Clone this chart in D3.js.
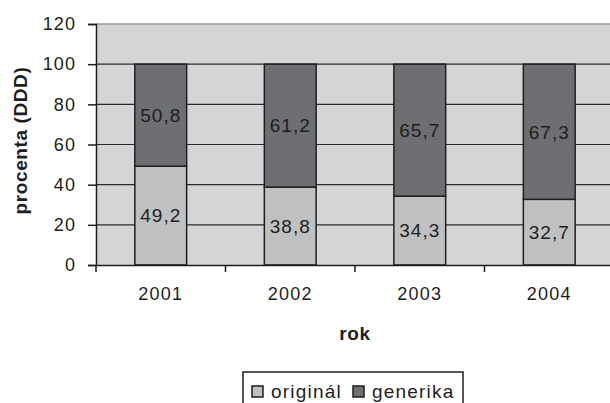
<!DOCTYPE html>
<html>
<head>
<meta charset="utf-8">
<script src="https://cdn.jsdelivr.net/npm/d3@7"></script>
<style>
  body { margin: 0; background: #fff; }
  svg { display: block; font-family: "Liberation Sans", Arial, sans-serif; }
</style>
</head>
<body>
<div id="chart"></div>
<script>
// data
var years = ["2001", "2002", "2003", "2004"];
var original = [49.2, 38.8, 34.3, 32.7];
var generika = [50.8, 61.2, 65.7, 67.3];
var yTicks = [0, 20, 40, 60, 80, 100, 120];
var seriesNames = ["originál", "generika"];
var seriesColors = ["#bfc0c2", "#6e6f72"];

var svgWidth = 610;
var svgHeight = 403;

// plot area (runs a little past the right edge, like the original)
var margin = { top: 24, left: 96 };
var width = 518;
var height = 241;

var svg = d3.select("#chart")
  .append("svg")
  .attr("width", svgWidth)
  .attr("height", svgHeight);

var g = svg.append("g")
  .attr("transform", `translate(${margin.left}, ${margin.top})`);

var x = d3.scaleBand()
  .domain(years)
  .range([0, width])
  .paddingInner(0.6)
  .paddingOuter(0.3);

var xOuter = d3.scaleBand().domain(years).range([0, width]);

var y = d3.scaleLinear()
  .domain([0, 120])
  .range([height, 0]);

// background
g.append("rect")
  .attr("width", width)
  .attr("height", height)
  .attr("fill", "#d4d5d7");

// top border
g.append("line")
  .attr("x1", 0).attr("x2", width)
  .attr("y1", 0).attr("y2", 0)
  .attr("stroke", "#9a9a9a")
  .attr("stroke-width", 1.5);

// gridlines
g.selectAll("line.grid")
  .data(yTicks.filter(d => d > 0 && d < 120))
  .enter()
  .append("line")
  .attr("class", "grid")
  .attr("x1", 0).attr("x2", width)
  .attr("y1", d => y(d)).attr("y2", d => y(d))
  .attr("stroke", "#2a2a2a")
  .attr("stroke-width", 1.2);

// stacked bars
var stackData = years.map((yr, i) => ({ year: yr, original: original[i], generika: generika[i] }));
var stack = d3.stack().keys(["original", "generika"])(stackData);

var layers = g.selectAll("g.layer")
  .data(stack)
  .enter()
  .append("g")
  .attr("class", "layer")
  .attr("fill", (d, i) => seriesColors[i]);

layers.selectAll("rect")
  .data(d => d)
  .enter()
  .append("rect")
  .attr("x", d => x(d.data.year))
  .attr("width", x.bandwidth())
  .attr("y", d => y(d[1]))
  .attr("height", d => y(d[0]) - y(d[1]))
  .attr("stroke", "#1e1e1e")
  .attr("stroke-width", 1.5);

// value labels
layers.selectAll("text")
  .data(d => d)
  .enter()
  .append("text")
  .attr("x", d => x(d.data.year) + x.bandwidth() / 2)
  .attr("y", d => (y(d[0]) + y(d[1])) / 2)
  .attr("dy", "0.36em")
  .attr("text-anchor", "middle")
  .attr("fill", "#1e1e1e")
  .style("font-size", "19px")
  .style("letter-spacing", "1px")
  .text(d => d3.format(".1f")(d[1] - d[0]).replace(".", ","));

// y axis
var leftAxis = d3.axisLeft(y)
  .tickValues(yTicks)
  .tickSize(8)
  .tickPadding(12);

var yAxis = g.append("g").call(leftAxis);
yAxis.select(".domain").attr("stroke", "#1e1e1e").attr("stroke-width", 1.5);
yAxis.selectAll(".tick line").attr("stroke", "#1e1e1e").attr("stroke-width", 1.5);
yAxis.selectAll(".tick text")
  .attr("fill", "#1e1e1e")
  .style("font-size", "18px")
  .style("letter-spacing", "1.1px")
  .style("font-family", "Liberation Sans, Arial, sans-serif");

// x axis
var bottomAxis = d3.axisBottom(xOuter).tickSize(0).tickPadding(22);
var xAxis = g.append("g")
  .attr("transform", `translate(0, ${height})`)
  .call(bottomAxis);
xAxis.select(".domain").attr("stroke", "#1e1e1e").attr("stroke-width", 1.5);
xAxis.selectAll(".tick text")
  .attr("fill", "#1e1e1e")
  .style("font-size", "18px")
  .style("letter-spacing", "1.2px")
  .style("font-family", "Liberation Sans, Arial, sans-serif");

// tick marks between categories
xAxis.selectAll("line.sep")
  .data(years)
  .enter()
  .append("line")
  .attr("class", "sep")
  .attr("x1", d => xOuter(d)).attr("x2", d => xOuter(d))
  .attr("y1", 0).attr("y2", 7)
  .attr("stroke", "#1e1e1e")
  .attr("stroke-width", 1.5);

// axis titles
svg.append("text")
  .attr("transform", `translate(27, ${margin.top + height / 2 - 4}) rotate(-90)`)
  .attr("text-anchor", "middle")
  .attr("fill", "#1e1e1e")
  .style("font-size", "19px")
  .style("font-weight", "bold")
  .style("letter-spacing", "0.6px")
  .text("procenta (DDD)");

svg.append("text")
  .attr("x", margin.left + width / 2)
  .attr("y", 340)
  .attr("text-anchor", "middle")
  .attr("fill", "#1e1e1e")
  .style("font-size", "19px")
  .style("font-weight", "bold")
  .style("letter-spacing", "0.6px")
  .text("rok");

// legend
var legend = svg.append("g");
legend.append("path")
  .attr("d", "M243,405 V372 H463 V405")
  .attr("fill", "none")
  .attr("stroke", "#1e1e1e")
  .attr("stroke-width", 1.5);

var legendX = [252, 353];
seriesNames.forEach(function(name, i) {
  legend.append("rect")
    .attr("x", legendX[i])
    .attr("y", 386)
    .attr("width", 11)
    .attr("height", 11)
    .attr("fill", seriesColors[i])
    .attr("stroke", "#1e1e1e")
    .attr("stroke-width", 1.5);
  legend.append("text")
    .attr("x", legendX[i] + 19)
    .attr("y", 398)
    .attr("fill", "#1e1e1e")
    .style("font-size", "19px")
    .style("letter-spacing", "1.2px")
    .text(name);
});
</script>
</body>
</html>
